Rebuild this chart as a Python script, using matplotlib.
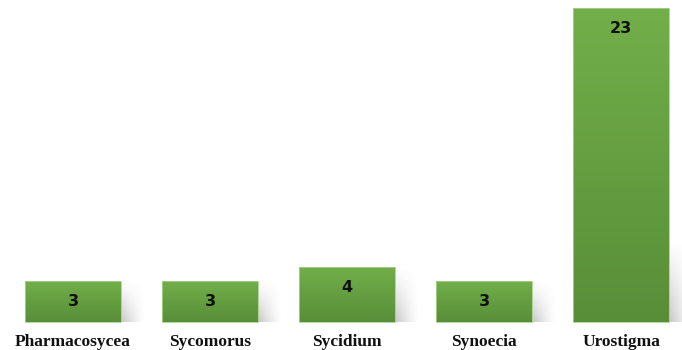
import numpy as np
import matplotlib.pyplot as plt
from matplotlib.colors import LinearSegmentedColormap

subgenera = ["Pharmacosycea", "Sycomorus", "Sycidium", "Synoecia", "Urostigma"]
counts = [3, 3, 4, 3, 23]

bar_w = 0.7
top_col = "#72AF4A"
bot_col = "#588E38"
green = LinearSegmentedColormap.from_list("bar_green", [bot_col, top_col])

fig = plt.figure(figsize=(6.82, 3.5), dpi=100)
ax = fig.add_axes([0, 0, 1, 1])
ax.set_xlim(-0.533, 4.445)
ax.set_ylim(-2.05, 23.59)
ax.axis("off")

# soft shadow falling to the lower right of each bar
def shadow(x_right, h):
    sh = min(h, 6.0)
    w = 0.17
    ny, nx = 80, 60
    yy, xx = np.mgrid[0:1:ny * 1j, 0:1:nx * 1j]
    fade_x = np.clip(1 - xx, 0, 1) ** 1.3
    fade_y = np.clip(1 - yy, 0, 1) ** 1.1
    alpha = 0.45 * fade_x * fade_y
    img = np.zeros((ny, nx, 4))
    img[..., :3] = 0.5
    img[..., 3] = alpha
    ax.imshow(img, extent=[x_right, x_right + w, 0, sh], origin="lower",
              aspect="auto", interpolation="bilinear", zorder=1)

grad = np.linspace(0, 1, 256).reshape(-1, 1)
for i, (name, v) in enumerate(zip(subgenera, counts)):
    x0 = i - bar_w / 2
    shadow(x0 + bar_w, v)
    ax.imshow(grad, extent=[x0, x0 + bar_w, 0, v], origin="lower", cmap=green,
              aspect="auto", interpolation="bilinear", zorder=2)
    ax.add_patch(plt.Rectangle((x0, 0), bar_w, v, fill=False,
                               edgecolor="#A9D18E", linewidth=0.6, zorder=3))
    ax.text(i, v - 1.5, str(v), ha="center", va="center", fontsize=11.5,
            fontweight="bold", color="#111111", family="DejaVu Sans", zorder=4)
    ax.text(i, -1.45, name, ha="center", va="center", fontsize=12.5,
            fontweight="bold", color="#111111", family="Liberation Serif")

fig.savefig("out.png", dpi=100)
